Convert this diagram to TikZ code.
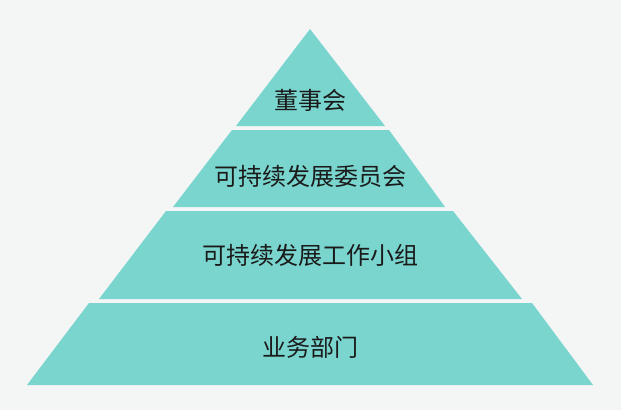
\documentclass[tikz,border=0pt]{standalone}
\usepackage{fontspec}
\newfontfamily\cjk{Noto Sans CJK SC}
\definecolor{bgcol}{HTML}{F4F6F6}
\definecolor{tealfill}{HTML}{79D5CE}
\definecolor{txtcol}{HTML}{1A1A1A}
\begin{document}
\begin{tikzpicture}[x=1pt, y=-1pt, layer/.style={fill=tealfill, draw=none},
    every node/.style={font=\cjk\fontsize{24}{28}\selectfont, text=txtcol, inner sep=0pt}]
            \fill[bgcol] (0,0) rectangle (621,410);
            \useasboundingbox (0,0) rectangle (621,410);

            % pyramid levels, top to bottom
            \fill[layer] (310,29) -- (385,126) -- (236,126) -- cycle;
            \fill[layer] (232,130) -- (389,130) -- (445,207) -- (173,207) -- cycle;
            \fill[layer] (166,211) -- (453,211) -- (522,299) -- (99,299) -- cycle;
            \fill[layer] (89,303) -- (532,303) -- (593,385) -- (27,385) -- cycle;

            \node (board) at (310,100) {董事会};
            \node (committee) at (310,176.5) {可持续发展委员会};
            \node (workgroup) at (310,255) {可持续发展工作小组};
            \node (units) at (310,347.5) {业务部门};
        \end{tikzpicture}
\end{document}
